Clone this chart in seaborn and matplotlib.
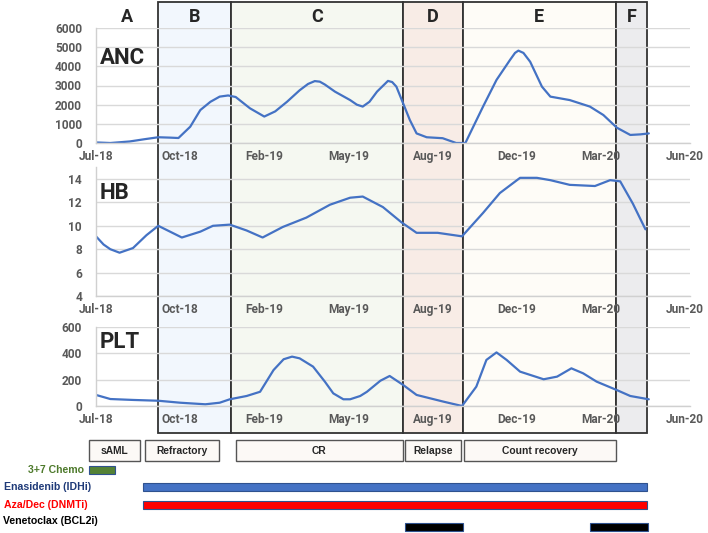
import matplotlib
matplotlib.use("Agg")
import matplotlib.pyplot as plt
import seaborn as sns
import pandas as pd
from matplotlib.patches import Rectangle

# ---------------- data ----------------
tick_days = [0, 100, 200, 300, 400, 500, 600, 700]
tick_labels = ["Jul-18", "Oct-18", "Feb-19", "May-19", "Aug-19", "Dec-19", "Mar-20", "Jun-20"]

anc_days = [0, 17, 40, 58, 74, 88, 98, 112, 124, 136, 147, 157, 166, 183, 200, 213, 227, 242, 252, 260, 266, 272,
            284, 302, 310, 317, 325, 334, 347, 352, 357, 365, 373, 381, 393, 412, 428, 439, 460, 476, 492, 498, 502, 508,
            516, 530, 540, 563, 587, 603, 619, 635, 647, 657]
anc_vals = [30, 0, 80, 200, 300, 280, 260, 850, 1720, 2150, 2420, 2480, 2400, 1810, 1380, 1650, 2150, 2750, 3080, 3230,
            3200, 3050, 2680, 2240, 2000, 1900, 2150, 2680, 3240, 3180, 2940, 2070, 1200, 500, 300, 250, 0, 0, 1900, 3290,
            4330, 4700, 4820, 4700, 4240, 2940, 2420, 2240, 1900, 1460, 800, 420, 450, 500]

hb_days = [0, 9, 17, 28, 44, 60, 74, 88, 102, 124, 139, 159, 179, 198, 222, 250, 278, 302, 317, 341, 363,
           381, 406, 435, 460, 480, 504, 524, 540, 563, 593, 611, 623, 638, 653]
hb_vals = [9.1, 8.4, 8.0, 7.7, 8.1, 9.2, 10.0, 9.5, 9.0, 9.5, 10.0, 10.1, 9.6, 9.0, 9.9, 10.7, 11.8, 12.4, 12.5, 11.6, 10.3,
           9.4, 9.4, 9.1, 11.1, 12.8, 14.1, 14.1, 13.9, 13.5, 13.4, 13.9, 13.8, 11.9, 9.7]

plt_days = [0, 17, 44, 74, 100, 130, 147, 159, 179, 195, 211, 223, 233, 242, 258, 272, 282, 294, 302, 314,
            322, 338, 349, 365, 381, 413, 435, 452, 464, 476, 488, 504, 532, 548, 565, 579, 595, 619, 635, 657]
plt_vals = [84, 53, 46, 40, 25, 13, 25, 51, 76, 108, 273, 355, 375, 362, 299, 185, 96, 51, 51, 76,
            108, 192, 228, 160, 84, 33, 0, 147, 350, 407, 350, 261, 203, 223, 286, 248, 185, 121, 76, 51]

phase_letters = ["A", "B", "C", "D", "E", "F"]
phase_starts = [0, 74, 160, 365, 436, 618]
phase_ends = [74, 160, 365, 436, 618, 655]
phase_fills = [None, "#f2f7fd", "#f5f8f1", "#f8ece6", "#fefcf7", "#ececee"]

status_names = ["sAML", "Refractory", "CR", "Relapse", "Count recovery"]
status_starts = [-8, 58, 166, 367, 437]
status_ends = [52, 146, 365, 434, 618]

drug_names = ["3+7 Chemo", "Enasidenib (IDHi)", "Aza/Dec (DNMTi)", "Venetoclax (BCL2i)"]
drug_bar_colors = ["#548235", "#4472c4", "#ff0000", "#000000"]
drug_text_colors = ["#4e7a2c", "#1f3a78", "#ff0000", "#000000"]
drug_periods = [[(-8, 23)], [(56, 655)], [(56, 655)], [(367, 436), (587, 656)]]

# ---------------- layout ----------------
W, H = 708, 533
X0 = 96            # pixel of day 0
PXD = 0.8414       # pixels per day
XMAX = 706
MAIN_FONT = ["Roboto", "DejaVu Sans"]
ARIAL = ["Liberation Sans", "DejaVu Sans"]

sns.set_style("white")
plt.rcParams["font.family"] = MAIN_FONT

fig = plt.figure(figsize=(W / 100, H / 100), dpi=100)

bg = fig.add_axes([0, 0, 1, 1], zorder=0)
bg.set_xlim(-X0 / PXD, (W - X0) / PXD)
bg.set_ylim(H, 0)
bg.axis("off")

# phase boxes
for L, s, e, fc in zip(phase_letters, phase_starts, phase_ends, phase_fills):
    if fc is not None:
        bg.add_patch(Rectangle((s, 2), e - s, 431, facecolor=fc, edgecolor="#333333", lw=1.3))
    bg.text((s + e) / 2, 17, L, ha="center", va="center", fontsize=13, fontweight="bold",
            family=MAIN_FONT)

# status boxes
for name, s, e in zip(status_names, status_starts, status_ends):
    bg.add_patch(Rectangle((s, 440), e - s, 20.5, facecolor="#fcf9f6", edgecolor="#555555", lw=1.0))
    bg.text((s + e) / 2, 450.5, name, ha="center", va="center", fontsize=7.4, fontweight="bold",
            family=ARIAL)

# drug bars
bar_y = [470, 487, 505, 527]
lab_y = [470, 487, 505, 521]
lab_x = [28, 4, 4, 3]
for name, bc, tc, periods, by, ly, lx in zip(drug_names, drug_bar_colors, drug_text_colors,
                                             drug_periods, bar_y, lab_y, lab_x):
    for s, e in periods:
        bg.add_patch(Rectangle((s, by - 4), e - s, 8, facecolor=bc, edgecolor="#2f528f", lw=0.8))
    bg.text((lx - X0) / PXD, ly, name, ha="left", va="center", fontsize=7.6, fontweight="bold",
            color=tc, family=ARIAL)


def panel(top_px, bottom_px, days, vals, ylim, yticks, label, label_y):
    ax = fig.add_axes([X0 / W, 1 - bottom_px / H, XMAX * PXD / W, (bottom_px - top_px) / H], zorder=2)
    ax.set_facecolor("none")
    df = pd.DataFrame({"day": days, "val": vals})
    sns.lineplot(data=df, x="day", y="val", ax=ax, color="#4472c4", lw=1.6)
    ax.set_xlim(0, XMAX)
    ax.set_ylim(*ylim)
    ax.set_yticks(yticks)
    ax.set_yticklabels([str(t) for t in yticks], fontweight="bold", family=MAIN_FONT)
    ax.set_xticks(tick_days)
    ax.set_xticklabels(tick_labels, fontweight="bold", family=MAIN_FONT)
    ax.tick_params(axis="both", length=0, labelsize=8.6, labelcolor="#595959")
    ax.tick_params(axis="y", pad=10)
    ax.tick_params(axis="x", pad=5)
    ax.set_xlabel("")
    ax.set_ylabel("")
    ax.grid(axis="y", color="#d9d9d9", lw=1.0)
    ax.grid(axis="x", visible=False)
    for sp in ["top", "right"]:
        ax.spines[sp].set_visible(False)
    for sp in ["left", "bottom"]:
        ax.spines[sp].set_color("#d0d0d0")
        ax.spines[sp].set_linewidth(1.0)
    fig.text(100 / W, 1 - label_y / H, label, ha="left", va="center", fontsize=16, fontweight="bold",
             family=MAIN_FONT)
    return ax


panel(28, 143, anc_days, anc_vals, (0, 6000), [0, 1000, 2000, 3000, 4000, 5000, 6000], "ANC", 58)
panel(167.3, 296, hb_days, hb_vals, (4, 15), [4, 6, 8, 10, 12, 14], "HB", 193)
panel(327, 406, plt_days, plt_vals, (0, 600), [0, 200, 400, 600], "PLT", 342)

fig.savefig("out.png", dpi=100)
